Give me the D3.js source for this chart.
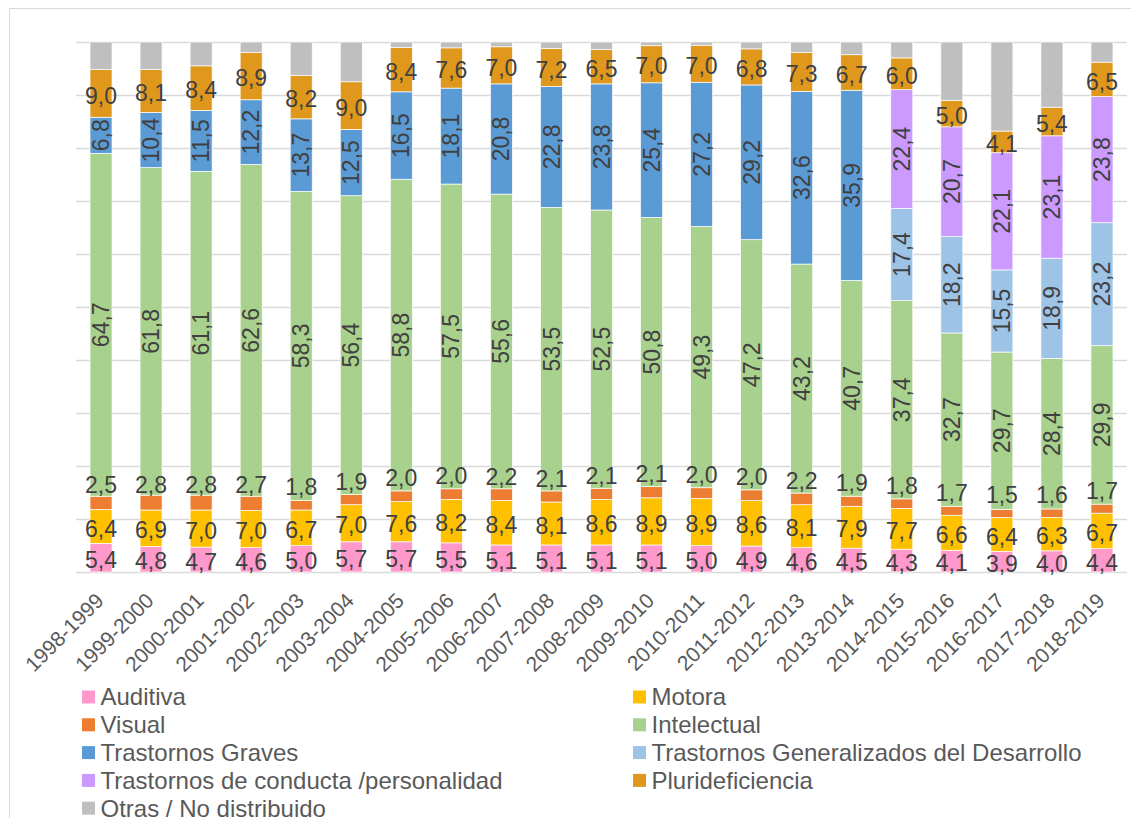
<!DOCTYPE html>
<html><head><meta charset="utf-8">
<script src="https://cdn.jsdelivr.net/npm/d3@7"></script>
<style>
html,body{margin:0;padding:0;background:#fff;overflow:hidden;}
svg{display:block;font-family:"Liberation Sans",Arial,sans-serif;}
</style></head>
<body>
<svg id="chart" width="1131" height="818"></svg>
<script>
const categories = ["1998-1999","1999-2000","2000-2001","2001-2002","2002-2003","2003-2004","2004-2005","2005-2006","2006-2007","2007-2008","2008-2009","2009-2010","2010-2011","2011-2012","2012-2013","2013-2014","2014-2015","2015-2016","2016-2017","2017-2018","2018-2019"];
const auditiva    = [5.4,4.8,4.7,4.6,5.0,5.7,5.7,5.5,5.1,5.1,5.1,5.1,5.0,4.9,4.6,4.5,4.3,4.1,3.9,4.0,4.4];
const motora      = [6.4,6.9,7.0,7.0,6.7,7.0,7.6,8.2,8.4,8.1,8.6,8.9,8.9,8.6,8.1,7.9,7.7,6.6,6.4,6.3,6.7];
const visual      = [2.5,2.8,2.8,2.7,1.8,1.9,2.0,2.0,2.2,2.1,2.1,2.1,2.0,2.0,2.2,1.9,1.8,1.7,1.5,1.6,1.7];
const intelectual = [64.7,61.8,61.1,62.6,58.3,56.4,58.8,57.5,55.6,53.5,52.5,50.8,49.3,47.2,43.2,40.7,37.4,32.7,29.7,28.4,29.9];
const trastGraves = [6.8,10.4,11.5,12.2,13.7,12.5,16.5,18.1,20.8,22.8,23.8,25.4,27.2,29.2,32.6,35.9,null,null,null,null,null];
const tgd         = [null,null,null,null,null,null,null,null,null,null,null,null,null,null,null,null,17.4,18.2,15.5,18.9,23.2];
const conducta    = [null,null,null,null,null,null,null,null,null,null,null,null,null,null,null,null,22.4,20.7,22.1,23.1,23.8];
const pluri       = [9.0,8.1,8.4,8.9,8.2,9.0,8.4,7.6,7.0,7.2,6.5,7.0,7.0,6.8,7.3,6.7,6.0,5.0,4.1,5.4,6.5];
const otras       = [5.2,5.2,4.5,2.0,6.3,7.5,1.0,1.1,0.9,1.2,1.4,0.7,0.6,1.3,2.0,2.4,3.0,11.0,16.8,12.3,3.8];
const yTicks      = [0,10,20,30,40,50,60,70,80,90,100];
const seriesNames = ["Auditiva","Motora","Visual","Intelectual","Trastornos Graves","Trastornos Generalizados del Desarrollo","Trastornos de conducta /personalidad","Pluridefi" + "ciencia","Otras / No distribuido"];

const series = [
  {key:"auditiva", values:auditiva, color:"#ff99cc", label:"h"},
  {key:"motora", values:motora, color:"#ffc000", label:"h"},
  {key:"visual", values:visual, color:"#ed7d31", label:"above"},
  {key:"intelectual", values:intelectual, color:"#a9d18e", label:"v"},
  {key:"graves", values:trastGraves, color:"#5b9bd5", label:"v"},
  {key:"tgd", values:tgd, color:"#9dc3e6", label:"v"},
  {key:"conducta", values:conducta, color:"#cc99ff", label:"v"},
  {key:"pluri", values:pluri, color:"#df981c", label:"h"},
  {key:"otras", values:otras, color:"#bfbfbf", label:null}
];
series.forEach((s,i)=>{ s.name = seriesNames[i]; });

const table = categories.map((c,i)=>{
  const row = {cat:c};
  series.forEach(s=>{ row[s.key] = s.values[i] == null ? 0 : s.values[i]; });
  return row;
});

const svg = d3.select("#chart");
// outer chart border
svg.append("rect").attr("x",9.5).attr("y",8.5).attr("width",1300).attr("height",1000)
  .attr("fill","none").attr("stroke","#d9d9d9").attr("stroke-width",1);

const x = d3.scaleBand().domain(categories).range([76,1127]).paddingInner(0.56).paddingOuter(0.28);
const y = d3.scaleLinear().domain([0,100]).range([572,42]);

// gridlines
svg.append("g").selectAll("line").data(yTicks).join("line")
  .attr("x1",76).attr("x2",1127)
  .attr("y1",d=>Math.round(y(d))+0.5).attr("y2",d=>Math.round(y(d))+0.5)
  .attr("stroke","#d9d9d9").attr("stroke-width",1.3);

const stack = d3.stack().keys(series.map(s=>s.key));
const stacked = stack(table);

const gBars = svg.append("g");
stacked.forEach((layer,li)=>{
  const s = series[li];
  gBars.append("g").selectAll("rect").data(layer).join("rect")
    .attr("x",d=>x(d.data.cat))
    .attr("width",x.bandwidth())
    .attr("y",d=>y(d[1]))
    .attr("height",d=>Math.max(0,y(d[0])-y(d[1])))
    .attr("fill",s.color)
    .attr("stroke","#fff").attr("stroke-width",0.7);
});

// data labels
const fmt = v => v.toFixed(1).replace(".",",");
const gLab = svg.append("g").attr("fill","#404040").attr("font-size",23);
stacked.forEach((layer,li)=>{
  const s = series[li];
  if(!s.label) return;
  layer.forEach((d,i)=>{
    const v = s.values[i];
    if(v == null) return;
    const cx = x(d.data.cat) + x.bandwidth()/2;
    const cy = (y(d[0]) + y(d[1]))/2;
    if(s.label === "v"){
      gLab.append("text").attr("text-anchor","middle").attr("dy","0.35em")
        .attr("transform",`translate(${cx},${cy}) rotate(-90)`).text(fmt(v));
    } else if(s.label === "above"){
      gLab.append("text").attr("text-anchor","middle").attr("dy","0.35em")
        .attr("x",cx).attr("y",cy-18).text(fmt(v));
    } else {
      gLab.append("text").attr("text-anchor","middle").attr("dy","0.4em")
        .attr("x",cx).attr("y",cy+1).text(fmt(v));
    }
  });
});

// x axis labels
const gx = svg.append("g").attr("fill","#595959").attr("font-size",21);
categories.forEach(c=>{
  const cx = x(c) + x.bandwidth()/2;
  gx.append("text").attr("text-anchor","end")
    .attr("transform",`translate(${cx+4},${602}) rotate(-45)`).text(c);
});

// legend
const legendX = [82, 633];
const legendY0 = 697, legendDY = 27.8;
const gLeg = svg.append("g").attr("font-size",24).attr("fill","#595959");
series.forEach((s,i)=>{
  const col = i%2, row = Math.floor(i/2);
  const lx = legendX[col], ly = legendY0 + row*legendDY;
  gLeg.append("rect").attr("x",lx).attr("y",ly-6.5).attr("width",13).attr("height",13).attr("fill",s.color);
  gLeg.append("text").attr("x",lx+18.5).attr("y",ly).attr("dy","0.35em").text(s.name);
});
</script>
</body></html>
